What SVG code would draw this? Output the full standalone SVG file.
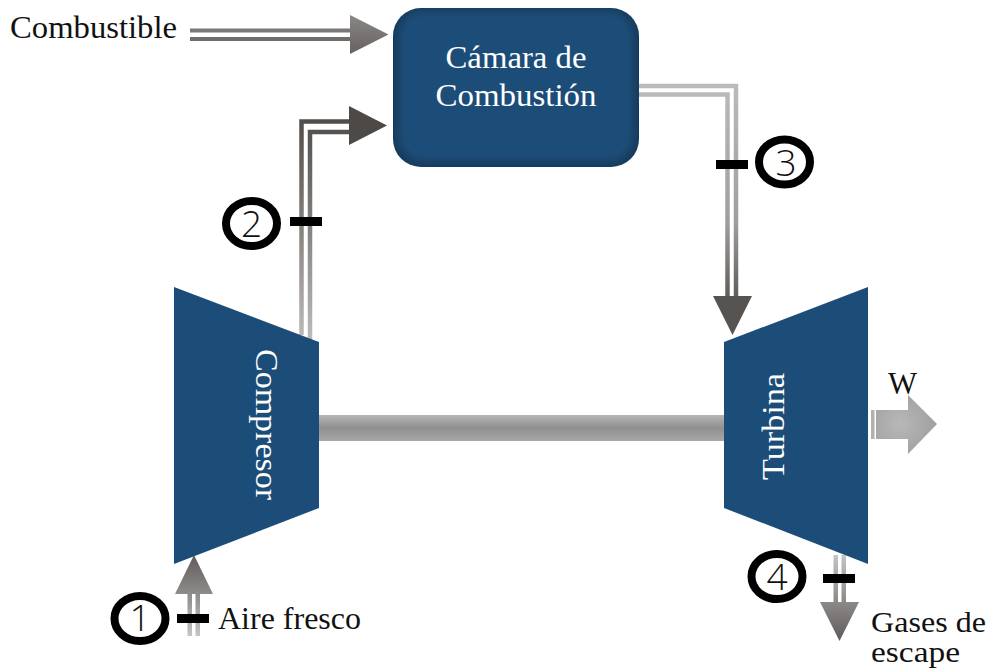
<svg xmlns="http://www.w3.org/2000/svg" width="990" height="668" viewBox="0 0 990 668">
<style>
.t{font-family:"Liberation Serif","DejaVu Serif",serif;font-size:31px;fill:#111}
.s{font-size:29px}
.w{fill:#fff}
.n{font-family:"Open Sans","Liberation Sans",sans-serif;font-weight:300;font-size:37px;fill:#111;text-anchor:middle}
.c{fill:#fff;stroke:#000;stroke-width:8}
.k{fill:#000}
.b{fill:#1f4e79}
.l{fill:none;stroke-width:4.5}
</style>
<defs>
<filter id="soft" x="-5%" y="-5%" width="110%" height="110%"><feGaussianBlur stdDeviation="0.7"/></filter>
<filter id="inner" x="-10%" y="-10%" width="120%" height="120%"><feGaussianBlur stdDeviation="5"/></filter>
<linearGradient id="shaft" x1="0" y1="0" x2="0" y2="1"><stop offset="0" stop-color="#b5b5b5"/><stop offset="0.5" stop-color="#8f8f8f"/><stop offset="1" stop-color="#a8a8a8"/></linearGradient>
<linearGradient id="g1" gradientUnits="userSpaceOnUse" x1="0" y1="555" x2="0" y2="636"><stop offset="0" stop-color="#5f5b5a"/><stop offset="0.5" stop-color="#908e8d"/><stop offset="1" stop-color="#c4c4c4"/></linearGradient>
<linearGradient id="g2" gradientUnits="userSpaceOnUse" x1="0" y1="340" x2="0" y2="106"><stop offset="0" stop-color="#bdbbba"/><stop offset="0.6" stop-color="#77736f"/><stop offset="1" stop-color="#4a4644"/></linearGradient>
<linearGradient id="g3" gradientUnits="userSpaceOnUse" x1="0" y1="84" x2="0" y2="335"><stop offset="0" stop-color="#bdbbba"/><stop offset="0.55" stop-color="#a09e9d"/><stop offset="0.85" stop-color="#605c5a"/><stop offset="1" stop-color="#4f4b49"/></linearGradient>
<linearGradient id="g4" gradientUnits="userSpaceOnUse" x1="0" y1="555" x2="0" y2="641"><stop offset="0" stop-color="#c4c4c4"/><stop offset="0.5" stop-color="#908e8d"/><stop offset="1" stop-color="#5f5b5a"/></linearGradient>
<linearGradient id="gf" gradientUnits="userSpaceOnUse" x1="0" y1="15" x2="0" y2="54"><stop offset="0" stop-color="#8a8786"/><stop offset="1" stop-color="#656260"/></linearGradient>
<radialGradient id="gw" gradientUnits="userSpaceOnUse" cx="900" cy="424" r="42"><stop offset="0" stop-color="#b8b8b8"/><stop offset="1" stop-color="#9c9c9c"/></radialGradient>
<clipPath id="cc"><rect x="393" y="8" width="246" height="159" rx="28"/></clipPath>
</defs>

<g id="connectors">
<g id="shaft-line"><rect x="319" y="415" width="405" height="26" fill="url(#shaft)"/></g>
<g id="fuel-arrow">
<rect x="190" y="28.500" width="160" height="4" fill="#7b7876"/><rect x="190" y="37" width="160" height="4" fill="#6f6c6a"/>
<path d="M350 15 L388.500 34.500 L350 54Z" fill="url(#gf)"/>
</g>
<g id="air-arrow">
<rect x="187.500" y="594" width="4.500" height="42" fill="url(#g1)"/><rect x="195.500" y="594" width="4.500" height="42" fill="url(#g1)"/>
<path d="M175 594 L194 555 L213 594Z" fill="url(#g1)"/>
</g>
<g id="compressed-arrow">
<path class="l" d="M301.500 335 V121.500 H349" stroke="url(#g2)"/>
<path class="l" d="M310 340 V132 H349" stroke="url(#g2)"/>
<path d="M349 106 L387 125.500 L349 145Z" fill="#4d4947"/>
</g>
<g id="hot-arrow">
<path class="l" d="M636 86 H736 V296" stroke="url(#g3)"/>
<path class="l" d="M636 94.500 H727.500 V296" stroke="url(#g3)"/>
<path d="M713 296 L732.500 335 L752 296Z" fill="#575351"/>
</g>
<g id="exhaust-arrow">
<rect x="833.500" y="555" width="4.500" height="47" fill="url(#g4)"/><rect x="841.500" y="555" width="4.500" height="47" fill="url(#g4)"/>
<path d="M820 602 L839.500 641 L859 602Z" fill="url(#g4)"/>
</g>
<g id="work-arrow">
<rect x="871" y="410" width="3.500" height="29" fill="#b0b0b0"/>
<path d="M876 410 H908 V395 L937 424 L908 454 V439 H876Z" fill="url(#gw)"/>
</g>
</g>

<g id="chamber">
<rect x="393" y="8" width="246" height="159" rx="28" fill="#173a5b" filter="url(#soft)"/>
<g clip-path="url(#cc)"><rect x="399" y="11" width="234" height="150" rx="24" class="b" filter="url(#inner)"/></g>
<text class="t w" x="516" y="68" text-anchor="middle" textLength="141" lengthAdjust="spacingAndGlyphs">Cámara de</text>
<text class="t w" x="516" y="106" text-anchor="middle" textLength="161" lengthAdjust="spacingAndGlyphs">Combustión</text>
</g>
<g id="compressor">
<path class="b" d="M174 287 L319 342 V508 L174 564Z" filter="url(#soft)"/>
<text class="t w" transform="translate(256 424.500) rotate(90)" text-anchor="middle" textLength="151" lengthAdjust="spacingAndGlyphs">Compresor</text>
</g>
<g id="turbine">
<path class="b" d="M724 342 L868 287 V564 L724 508Z" filter="url(#soft)"/>
<text class="t w" transform="translate(784 426.500) rotate(-90)" text-anchor="middle" textLength="107" lengthAdjust="spacingAndGlyphs">Turbina</text>
</g>

<g id="state-1"><rect class="k" x="177" y="614" width="32" height="9"/><ellipse class="c" cx="140" cy="618.500" rx="25.500" ry="22.500"/><text class="n" x="140" y="631">1</text></g>
<g id="state-2"><rect class="k" x="290" y="217" width="32" height="9"/><ellipse class="c" cx="251.500" cy="223.500" rx="25.500" ry="22.500"/><text class="n" x="251.500" y="237">2</text></g>
<g id="state-3"><rect class="k" x="716" y="160" width="32" height="9"/><ellipse class="c" cx="784.500" cy="162" rx="25.500" ry="22.500"/><text class="n" x="786" y="176">3</text></g>
<g id="state-4"><rect class="k" x="823" y="574" width="32" height="9"/><ellipse class="c" cx="777" cy="576.500" rx="25.500" ry="22.500"/><text class="n" x="777" y="590">4</text></g>

<g id="labels">
<text class="t" x="10" y="38" textLength="167" lengthAdjust="spacingAndGlyphs">Combustible</text>
<text class="t" x="218" y="629" textLength="143" lengthAdjust="spacingAndGlyphs">Aire fresco</text>
<text class="t" x="888" y="394" textLength="29" lengthAdjust="spacingAndGlyphs">W</text>
<text class="t s" x="871" y="632" textLength="115" lengthAdjust="spacingAndGlyphs">Gases de</text>
<text class="t s" x="871" y="662" textLength="89" lengthAdjust="spacingAndGlyphs">escape</text>
</g>
</svg>
